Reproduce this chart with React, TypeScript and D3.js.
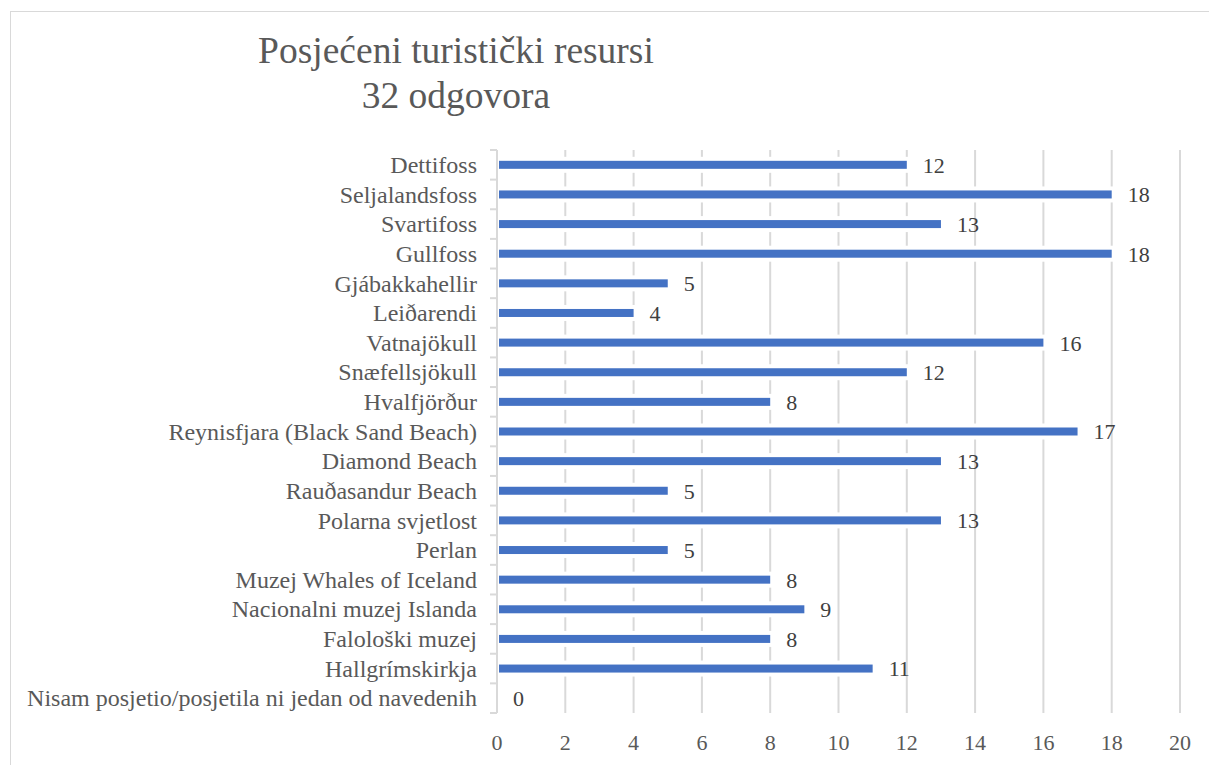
import * as d3 from "d3";

const categories = [
  "Dettifoss",
  "Seljalandsfoss",
  "Svartifoss",
  "Gullfoss",
  "Gjábakkahellir",
  "Leiðarendi",
  "Vatnajökull",
  "Snæfellsjökull",
  "Hvalfjörður",
  "Reynisfjara (Black Sand Beach)",
  "Diamond Beach",
  "Rauðasandur Beach",
  "Polarna svjetlost",
  "Perlan",
  "Muzej Whales of Iceland",
  "Nacionalni muzej Islanda",
  "Falološki muzej",
  "Hallgrímskirkja",
  "Nisam posjetio/posjetila ni jedan od navedenih",
];

const counts = [12, 18, 13, 18, 5, 4, 16, 12, 8, 17, 13, 5, 13, 5, 8, 9, 8, 11, 0];

const xTicks = [0, 2, 4, 6, 8, 10, 12, 14, 16, 18, 20];

const titleLines = ["Posjećeni turistički resursi", "32 odgovora"];

const W = 1209;
const H = 765;
const PLOT = { left: 497, right: 1180, top: 150, bottom: 713 };

const FONT = { fontFamily: "Liberation Serif" };
const COLOR_BAR = "#4472C4";
const COLOR_GRID = "#d9d9d9";
const COLOR_TEXT = "#595959";
const COLOR_LABEL = "#404040";

export default function App() {
  const x = d3.scaleLinear().domain([0, 20]).range([PLOT.left, PLOT.right]);
  const y = d3
    .scaleBand<string>()
    .domain(categories)
    .range([PLOT.top, PLOT.bottom])
    .paddingInner(0.73)
    .paddingOuter(0.365);
  const step = y.step();
  const bandTop = (c: string) => (y(c) ?? 0) - (step - y.bandwidth()) / 2;

  return (
    <svg
      width={W}
      height={H}
      style={{ position: "absolute", left: 0, top: 0, background: "#fff" }}
    >
      <rect x={10.5} y={11.5} width={1300} height={900} fill="#fff" stroke={COLOR_GRID} />

      {/* title */}
      <text x={456} y={63} textAnchor="middle" fontSize={37.5} fill={COLOR_TEXT} style={FONT}>
        {titleLines[0]}
      </text>
      <text x={456} y={108} textAnchor="middle" fontSize={37.5} fill={COLOR_TEXT} style={FONT}>
        {titleLines[1]}
      </text>

      {/* vertical gridlines */}
      {xTicks.slice(1).map((t) => (
        <line
          key={t}
          x1={x(t)}
          x2={x(t)}
          y1={PLOT.top}
          y2={PLOT.bottom}
          stroke={COLOR_GRID}
          strokeWidth={2}
        />
      ))}

      {/* category axis */}
      <line x1={x(0)} x2={x(0)} y1={PLOT.top} y2={PLOT.bottom} stroke={COLOR_GRID} strokeWidth={2} />
      {categories.map((c) => (
        <line
          key={"t" + c}
          x1={x(0) - 7}
          x2={x(0)}
          y1={bandTop(c)}
          y2={bandTop(c)}
          stroke={COLOR_GRID}
          strokeWidth={2}
        />
      ))}
      <line
        x1={x(0) - 7}
        x2={x(0)}
        y1={PLOT.bottom}
        y2={PLOT.bottom}
        stroke={COLOR_GRID}
        strokeWidth={2}
      />

      {/* bars, white halo behind each bar breaks the gridlines like the original */}
      {categories.map((c, i) => {
        const yb = y(c) ?? 0;
        const bw = y.bandwidth();
        const cy = yb + bw / 2;
        const v = counts[i];
        return (
          <g key={c}>
            {v > 0 && (
              <rect
                x={x(0) + 1}
                y={yb - 4}
                width={x(v) - x(0) + 3}
                height={bw + 8}
                fill="#fff"
              />
            )}
            {v > 0 && (
              <rect x={x(0) + 2} y={yb} width={x(v) - x(0) - 2} height={bw} fill={COLOR_BAR} />
            )}
            <text x={x(v) + 16} y={cy} dy="0.36em" fontSize={22} fill={COLOR_LABEL} style={FONT}>
              {v}
            </text>
            <text
              x={477}
              y={cy}
              dy="0.34em"
              textAnchor="end"
              fontSize={24}
              fill={COLOR_TEXT}
              style={FONT}
            >
              {c}
            </text>
          </g>
        );
      })}

      {/* x axis tick labels */}
      {xTicks.map((t) => (
        <text
          key={"x" + t}
          x={x(t)}
          y={750}
          textAnchor="middle"
          fontSize={22}
          fill={COLOR_TEXT}
          style={FONT}
        >
          {t}
        </text>
      ))}
    </svg>
  );
}
